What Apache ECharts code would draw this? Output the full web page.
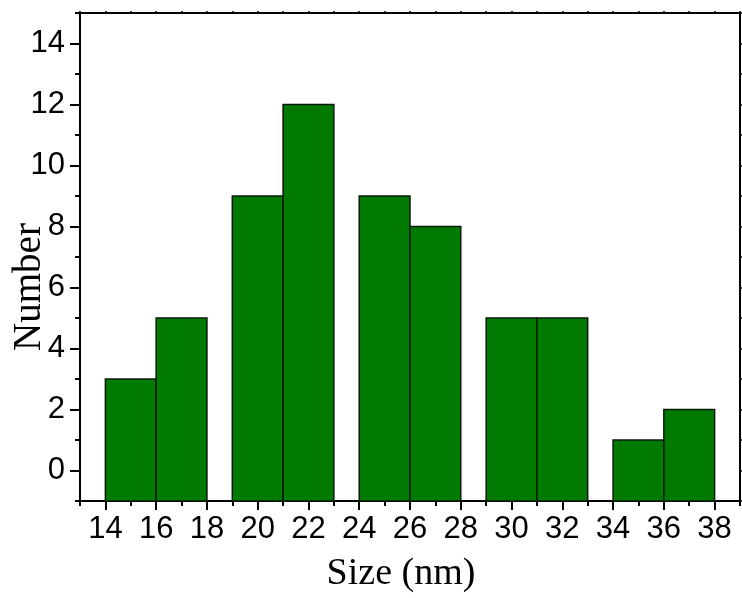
<!DOCTYPE html>
<html>
<head>
<meta charset="utf-8">
<script src="https://cdn.jsdelivr.net/npm/echarts@6/dist/echarts.min.js"></script>
<style>html,body{margin:0;padding:0;background:#fff;}#c{width:742px;height:598px;}</style>
</head>
<body>
<div id="c"></div>
<script>
// Histogram bins (size in nm) and counts
const binStart = [14, 16, 19, 21, 24, 26, 29, 31, 34, 36];
const binEnd   = [16, 18, 21, 23, 26, 28, 31, 33, 36, 38];
const counts   = [3, 5, 9, 12, 9, 8, 5, 5, 1, 2];

// Tick values
const xMajorTicks = [14, 16, 18, 20, 22, 24, 26, 28, 30, 32, 34, 36, 38];
const xMinorTicks = [13, 15, 17, 19, 21, 23, 25, 27, 29, 31, 33, 35, 37, 39];
const yMajorTicks = [0, 2, 4, 6, 8, 10, 12, 14];
const yMinorTicks = [-1, 1, 3, 5, 7, 9, 11, 13, 15];
const xAllTicks = xMajorTicks.concat(xMinorTicks).sort((a, b) => a - b);
const yAllTicks = yMajorTicks.concat(yMinorTicks).sort((a, b) => a - b);

const xMin = 13, xMax = 39, yMin = -1, yMax = 15;

const barData = binStart.map((s, i) => [s, binEnd[i], counts[i]]);

const lineBlack = { color: '#000', width: 2 };
const labelFont = { fontSize: 31, fontFamily: '"Liberation Sans", Arial, sans-serif', color: '#000' };

function baseAxis(extra) {
  return Object.assign({
    type: 'value',
    splitLine: { show: false },
    axisLine: { show: false, onZero: false, lineStyle: lineBlack },
    axisLabel: { show: false },
    axisTick: { show: false }
  }, extra);
}

const chart = echarts.init(document.getElementById('c'), null, { renderer: 'canvas' });
chart.setOption({
  backgroundColor: '#fff',
  animation: false,
  grid: { left: 80, right: 2, top: 13, bottom: 97 },
  xAxis: [
    baseAxis({
      min: xMin, max: xMax, position: 'bottom',
      axisLine: { show: true, onZero: false, lineStyle: lineBlack },
      axisTick: { show: true, customValues: xMajorTicks, length: 9, lineStyle: lineBlack },
      axisLabel: Object.assign({ show: true, customValues: xMajorTicks, margin: 13 }, labelFont)
    }),
    baseAxis({
      min: xMin, max: xMax, position: 'bottom',
      axisTick: { show: true, customValues: xMinorTicks, length: 5, lineStyle: lineBlack }
    }),
    baseAxis({
      min: xMin, max: xMax, position: 'top',
      axisLine: { show: true, onZero: false, lineStyle: lineBlack },
      axisTick: { show: true, customValues: xAllTicks, length: 2, lineStyle: { color: '#000', width: 1.5 } }
    })
  ],
  yAxis: [
    baseAxis({
      min: yMin, max: yMax, position: 'left',
      axisLine: { show: true, onZero: false, lineStyle: lineBlack },
      axisTick: { show: true, customValues: yMajorTicks, length: 10, lineStyle: lineBlack },
      axisLabel: Object.assign({ show: true, customValues: yMajorTicks, margin: 15 }, labelFont)
    }),
    baseAxis({
      min: yMin, max: yMax, position: 'left',
      axisTick: { show: true, customValues: yMinorTicks, length: 5, lineStyle: lineBlack }
    }),
    baseAxis({
      min: yMin, max: yMax, position: 'right',
      axisLine: { show: true, onZero: false, lineStyle: lineBlack },
      axisTick: { show: true, customValues: yAllTicks, length: 2, lineStyle: { color: '#000', width: 1.5 } }
    })
  ],
  series: [{
    type: 'custom',
    xAxisIndex: 0,
    yAxisIndex: 0,
    data: barData,
    encode: { x: [0, 1], y: 2 },
    renderItem: function (params, api) {
      const p0 = api.coord([api.value(0), api.value(2)]);
      const p1 = api.coord([api.value(1), yMin]);
      return {
        type: 'rect',
        shape: { x: p0[0], y: p0[1], width: p1[0] - p0[0], height: p1[1] - p0[1] },
        style: { fill: '#007A00', stroke: '#0a1a0a', lineWidth: 1.5 }
      };
    },
    z: 1
  }],
  graphic: [
    {
      type: 'text',
      x: 30, y: 287,
      rotation: Math.PI / 2,
      style: {
        text: 'Number',
        font: '39px "Liberation Serif", "Times New Roman", serif',
        fill: '#000',
        align: 'center',
        verticalAlign: 'middle'
      }
    },
    {
      type: 'text',
      x: 401, y: 574,
      style: {
        text: 'Size (nm)',
        font: '38px "Liberation Serif", "Times New Roman", serif',
        fill: '#000',
        align: 'center',
        verticalAlign: 'middle'
      }
    }
  ]
});
</script>
</body>
</html>
